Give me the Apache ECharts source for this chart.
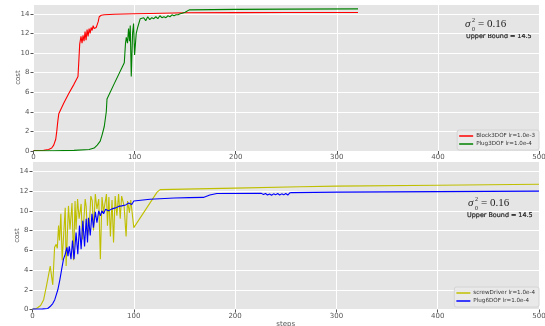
<!DOCTYPE html>
<html><head><meta charset="utf-8">
<script src="https://cdn.jsdelivr.net/npm/echarts@6/dist/echarts.min.js"></script>
<style>html,body{margin:0;padding:0;background:#fff}#c{width:545px;height:326px}</style>
</head><body><div id="c"></div>
<script>
// ---- data ----
const xTicks = [0, 100, 200, 300, 400, 500];
const yTicks = [0, 2, 4, 6, 8, 10, 12, 14];

const block3dofX = [0,10,15,18,20,22,23,24,25,30,35,40,44,45,45.7,47,48,49,50,51,52,53,54,55,56,57,58,59,60,61,62,63,64,65,67,70,80,100,115,150,200,250,300,321];
const block3dofY = [0.05,0.07,0.15,0.3,0.6,1.2,2.0,3.0,3.8,4.9,5.9,6.8,7.6,9.5,10.9,11.7,11.0,11.8,11.2,12.2,11.3,12.4,11.7,12.5,12.0,12.6,12.3,12.8,12.5,12.7,12.6,12.9,13.2,13.7,13.85,13.9,13.95,14.0,14.03,14.1,14.12,14.13,14.14,14.14];

const plug3dofX = [0,20,40,55,60,63,66,68,70,72,72.7,80,89.8,91,91.8,93,94,95,95.7,96.7,98,99,100,101.6,103,105.6,107,109,111,113,115,117,119,121,123,125,127,129,131,133,135,137,139,141,143,145,147,150,154,200,250,321];
const plug3dofY = [0.02,0.03,0.06,0.15,0.3,0.6,1.0,1.7,2.5,4.0,5.3,6.9,9.0,11.0,11.6,11.0,12.5,11.2,12.8,7.6,12.0,13.0,9.8,12.0,12.6,13.5,13.4,13.6,13.3,13.7,13.4,13.6,13.5,13.7,13.5,13.8,13.6,13.7,13.6,13.8,13.7,13.9,13.8,13.9,13.9,14.0,14.05,14.15,14.4,14.45,14.48,14.5];

const screwDriverX = [0,4,8,11,14,17.5,20,21.8,23.4,24.5,25.7,26.7,28,29.3,32.3,33.2,35.5,37,39,40.5,42,43,44.5,46,48,49.3,50.8,52,53,54.3,56,57.6,59,60.2,62,63.6,65.4,67,68.6,70.2,73,74,75.4,76.9,78.5,80,81.6,83.3,85,86.6,88,90.4,92.4,93.8,95.7,97,98,100,123,126,150,200,264,300,400,500];
const screwDriverY = [0.05,0.1,0.4,1.0,2.5,4.4,2.5,6.3,6.6,6.2,8.5,7.0,9.7,5.0,10.3,4.4,10.5,8.1,10.8,5.0,11.0,8.1,11.2,9.2,10.7,7.1,9.3,11.2,10.4,7.4,8.4,11.5,11.0,8.0,11.7,10.2,11.2,5.1,11.4,9.9,11.7,8.5,11.4,7.4,11.1,6.8,11.5,9.5,11.7,9.2,11.5,10.5,7.4,11.0,9.8,11.1,11.0,8.3,11.9,12.15,12.2,12.3,12.44,12.5,12.6,12.7];

const plug6dofX = [0,10,15,17.4,20,22,25,27,29,30.6,32.3,34,35,36.3,38,39.5,41,43,44.7,46.4,48,49.7,51.4,53,54.3,55.3,57,58.7,60.2,62,63.6,65.4,67,68.6,70.2,72,75,78.5,82,85,88,92,95,98,100,101.6,116,140,155,168.7,175,182,226,228,230,232,234,236,238,240,242,244,246,248,250,252,254,256,300,400,500];
const plug6dofY = [0.05,0.06,0.1,0.3,0.6,1.0,2.0,3.0,4.2,5.1,5.6,6.3,5.4,6.4,5.1,7.0,5.1,7.8,5.6,8.5,6.1,9.0,6.4,9.2,6.8,9.3,7.5,9.7,8.3,9.9,8.8,10.0,9.5,10.0,9.7,10.15,10.0,10.2,10.3,10.45,10.5,10.6,10.8,10.65,11.0,11.2,11.18,11.3,11.34,11.36,11.6,11.75,11.77,11.66,11.75,11.6,11.7,11.58,11.72,11.62,11.75,11.6,11.72,11.62,11.75,11.6,11.82,11.85,11.9,11.95,12.0];

const seriesNames = ['Block3DOF lr=1.0e-3', 'Plug3DOF lr=1.0e-4', 'screwDriver lr=1.0e-4', 'Plug6DOF lr=1.0e-4'];
const seriesColors = ['#ff0000', '#008000', '#bfbf00', '#0000ff'];

function zip(xs, ys) { return xs.map((x, i) => [x, ys[i]]); }

const chart = echarts.init(document.getElementById('c'), null, {renderer: 'canvas'});
const lbl = {fontSize: 7, color: '#555', fontFamily: 'DejaVu Sans'};

function xAxis(gi, withName) {
  return {
    type: 'value', gridIndex: gi, min: 0, max: 500, interval: 100,
    axisLine: {show: false},
    axisTick: {show: true, length: 3, lineStyle: {color: '#555'}},
    axisLabel: Object.assign({margin: 3}, lbl),
    splitLine: {show: true, lineStyle: {color: '#fff', width: 1}},
    name: withName ? 'steps' : '', nameLocation: 'middle', nameGap: 11, nameMoveOverlap: false,
    nameTextStyle: lbl
  };
}
function yAxis(gi) {
  return {
    type: 'value', gridIndex: gi, min: 0, max: 15, interval: 2,
    axisLine: {show: false},
    axisTick: {show: true, length: 3, lineStyle: {color: '#555'}},
    axisLabel: Object.assign({margin: 4, showMaxLabel: false}, lbl),
    splitLine: {show: true, lineStyle: {color: '#fff', width: 1}},
    name: 'cost', nameLocation: 'middle', nameGap: 12, nameMoveOverlap: false,
    nameTextStyle: lbl
  };
}
function legend(names, top) {
  return {
    data: names, orient: 'vertical', right: 6, top: top,
    icon: 'rect', itemWidth: 14, itemHeight: 1.5, itemGap: 2,
    textStyle: {fontSize: 5.6, color: '#333', fontFamily: 'DejaVu Sans', padding: [0, 0, 0, -2]},
    backgroundColor: '#e9e9e9', borderColor: '#d4d4d4', borderWidth: 1, borderRadius: 2,
    padding: [3, 4, 3, 2]
  };
}
function line(name, color, xi, data) {
  return {
    type: 'line', name: name, xAxisIndex: xi, yAxisIndex: xi,
    data: data, showSymbol: false, symbol: 'none', animation: false,
    lineStyle: {color: color, width: 1.1}, itemStyle: {color: color}
  };
}
function sigma(left, cy) {
  return [
    {type: 'text', left: left, top: cy - 6, style: {text: 'σ', font: 'italic 11px "Liberation Serif"', fill: '#222'}},
    {type: 'text', left: left + 7, top: cy - 8, style: {text: '2', font: '6px "Liberation Serif"', fill: '#222'}},
    {type: 'text', left: left + 7, top: cy + 1, style: {text: '0', font: '6px "Liberation Serif"', fill: '#222'}},
    {type: 'text', left: left + 13, top: cy - 6, style: {text: '= 0.16', font: '11px "Liberation Serif"', fill: '#222'}}
  ];
}
function bound(left, cy) {
  return {type: 'text', left: left, top: cy - 4, style: {text: 'Upper Bound = 14.5', font: '6.4px "DejaVu Sans"', fill: '#222', stroke: '#222', lineWidth: 0.2}};
}

const gridBase = {right: 6, show: true, backgroundColor: '#e5e5e5', borderWidth: 0, containLabel: false, outerBoundsMode: 'none'};

chart.setOption({
  animation: false,
  backgroundColor: '#fff',
  grid: [
    Object.assign({left: 33.5, top: 4, height: 147}, gridBase),
    Object.assign({left: 32.5, top: 161.5, height: 148}, gridBase)
  ],
  xAxis: [xAxis(0, false), xAxis(1, true)],
  yAxis: [yAxis(0), yAxis(1)],
  legend: [legend([seriesNames[0], seriesNames[1]], 130), legend([seriesNames[2], seriesNames[3]], 287)],
  series: [
    line(seriesNames[0], seriesColors[0], 0, zip(block3dofX, block3dofY)),
    line(seriesNames[1], seriesColors[1], 0, zip(plug3dofX, plug3dofY)),
    line(seriesNames[2], seriesColors[2], 1, zip(screwDriverX, screwDriverY)),
    line(seriesNames[3], seriesColors[3], 1, zip(plug6dofX, plug6dofY))
  ],
  graphic: [].concat(sigma(465, 25), [bound(466, 37)], sigma(468, 204), [bound(467, 216)])
});
</script></body></html>
